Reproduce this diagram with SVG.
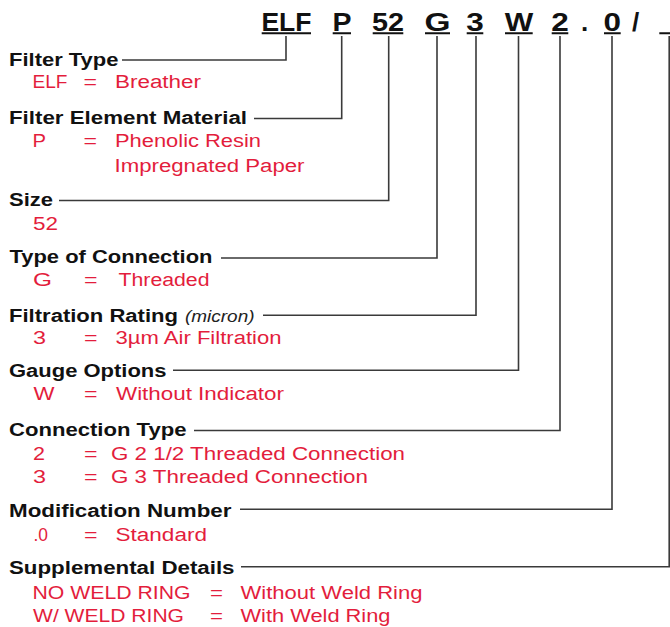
<svg xmlns="http://www.w3.org/2000/svg" width="670" height="627" viewBox="0 0 670 627">
<style>
.code{font-family:"Liberation Sans",Arial,sans-serif;font-weight:bold;font-size:26px;fill:#111;text-anchor:middle}
.ul{stroke:#111;stroke-width:2;fill:none}
.lbl{font-family:"Liberation Sans",Arial,sans-serif;font-weight:bold;font-size:19.2px;fill:#111}
.it{font-family:"Liberation Sans",Arial,sans-serif;font-style:italic;font-size:16.5px;fill:#222}
.val{font-family:"Liberation Sans",Arial,sans-serif;font-size:18px;fill:#e31d3c}
.con{stroke:#3a3a3a;stroke-width:1.6;fill:none}
</style>
<rect width="670" height="627" fill="#fff"/>
<g id="code">
<text class="code" x="286.4" y="31" textLength="50" lengthAdjust="spacingAndGlyphs">ELF</text>
<text class="code" x="341.9" y="31" textLength="19" lengthAdjust="spacingAndGlyphs">P</text>
<text class="code" x="388" y="31" textLength="32" lengthAdjust="spacingAndGlyphs">52</text>
<text class="code" x="437.5" y="31" textLength="26" lengthAdjust="spacingAndGlyphs">G</text>
<text class="code" x="475" y="31" textLength="17.5" lengthAdjust="spacingAndGlyphs">3</text>
<text class="code" x="518.9" y="31" textLength="28.5" lengthAdjust="spacingAndGlyphs">W</text>
<text class="code" x="560" y="31" textLength="17.5" lengthAdjust="spacingAndGlyphs">2</text>
<text class="code" x="584.5" y="31">.</text>
<text class="code" x="612.3" y="31" textLength="17.5" lengthAdjust="spacingAndGlyphs">0</text>
<text class="code" x="635.5" y="31">/</text>
<path class="ul" d="M261.7,33.3H311M332.7,33.3H351M372.7,33.3H403.3M425,33.3H450M466.7,33.3H483.3M505,33.3H532.7M551.7,33.3H568.3M604,33.3H620.7M659.3,33.3H670"/>
</g>
<g id="connectors">
<path class="con" d="M122,60H286V36"/>
<path class="con" d="M254,118.5H341.7V36"/>
<path class="con" d="M59,200.5H388.7V36"/>
<path class="con" d="M221,258H437V36"/>
<path class="con" d="M263,315.2H476V36"/>
<path class="con" d="M173,370.2H518.5V36"/>
<path class="con" d="M194,430.5H560V36"/>
<path class="con" d="M240,509.3H612V36"/>
<path class="con" d="M241,566.8H669.2V36"/>
</g>
<g id="filter-type">
<text class="lbl" x="9" y="65.7" textLength="109.5" lengthAdjust="spacingAndGlyphs">Filter Type</text>
<text class="val" x="32.5" y="88.3" textLength="35" lengthAdjust="spacingAndGlyphs">ELF</text>
<text class="val" x="83.5" y="88.3" textLength="13.5" lengthAdjust="spacingAndGlyphs">=</text>
<text class="val" x="115" y="88.3" textLength="86" lengthAdjust="spacingAndGlyphs">Breather</text>
</g>
<g id="filter-element-material">
<text class="lbl" x="9" y="124" textLength="238" lengthAdjust="spacingAndGlyphs">Filter Element Material</text>
<text class="val" x="32.5" y="147.3" textLength="13.5" lengthAdjust="spacingAndGlyphs">P</text>
<text class="val" x="83.5" y="147.3" textLength="13.5" lengthAdjust="spacingAndGlyphs">=</text>
<text class="val" x="115" y="147.3" textLength="146" lengthAdjust="spacingAndGlyphs">Phenolic Resin</text>
<text class="val" x="114.5" y="171.7" textLength="190" lengthAdjust="spacingAndGlyphs">Impregnated Paper</text>
</g>
<g id="size">
<text class="lbl" x="9" y="205.7" textLength="44" lengthAdjust="spacingAndGlyphs">Size</text>
<text class="val" x="33" y="230" textLength="25" lengthAdjust="spacingAndGlyphs">52</text>
</g>
<g id="type-of-connection">
<text class="lbl" x="9.5" y="262.7" textLength="203" lengthAdjust="spacingAndGlyphs">Type of Connection</text>
<text class="val" x="33" y="286" textLength="19" lengthAdjust="spacingAndGlyphs">G</text>
<text class="val" x="84" y="286" textLength="13.5" lengthAdjust="spacingAndGlyphs">=</text>
<text class="val" x="118.5" y="286" textLength="91" lengthAdjust="spacingAndGlyphs">Threaded</text>
</g>
<g id="filtration-rating">
<text class="lbl" x="9" y="321.7" textLength="169" lengthAdjust="spacingAndGlyphs">Filtration Rating</text>
<text class="it" x="185" y="321.7" textLength="69.5" lengthAdjust="spacingAndGlyphs">(micron)</text>
<text class="val" x="33" y="344.3" textLength="13" lengthAdjust="spacingAndGlyphs">3</text>
<text class="val" x="84" y="344.3" textLength="13.5" lengthAdjust="spacingAndGlyphs">=</text>
<text class="val" x="115.5" y="344.3" textLength="166" lengthAdjust="spacingAndGlyphs">3µm Air Filtration</text>
</g>
<g id="gauge-options">
<text class="lbl" x="9" y="376.7" textLength="157.5" lengthAdjust="spacingAndGlyphs">Gauge Options</text>
<text class="val" x="33.5" y="400" textLength="21" lengthAdjust="spacingAndGlyphs">W</text>
<text class="val" x="84" y="400" textLength="13.5" lengthAdjust="spacingAndGlyphs">=</text>
<text class="val" x="116" y="400" textLength="168" lengthAdjust="spacingAndGlyphs">Without Indicator</text>
</g>
<g id="connection-type">
<text class="lbl" x="9" y="435.7" textLength="177.5" lengthAdjust="spacingAndGlyphs">Connection Type</text>
<text class="val" x="33" y="460" textLength="12" lengthAdjust="spacingAndGlyphs">2</text>
<text class="val" x="84" y="460" textLength="13.5" lengthAdjust="spacingAndGlyphs">=</text>
<text class="val" x="111" y="460" textLength="294" lengthAdjust="spacingAndGlyphs">G 2 1/2 Threaded Connection</text>
<text class="val" x="33" y="483.3" textLength="13" lengthAdjust="spacingAndGlyphs">3</text>
<text class="val" x="84" y="483.3" textLength="13.5" lengthAdjust="spacingAndGlyphs">=</text>
<text class="val" x="111" y="483.3" textLength="257" lengthAdjust="spacingAndGlyphs">G 3 Threaded Connection</text>
</g>
<g id="modification-number">
<text class="lbl" x="9" y="517.3" textLength="222.5" lengthAdjust="spacingAndGlyphs">Modification Number</text>
<text class="val" x="33.5" y="541" textLength="14.5" lengthAdjust="spacingAndGlyphs">.0</text>
<text class="val" x="84" y="541" textLength="13.5" lengthAdjust="spacingAndGlyphs">=</text>
<text class="val" x="115.5" y="541" textLength="91.5" lengthAdjust="spacingAndGlyphs">Standard</text>
</g>
<g id="supplemental-details">
<text class="lbl" x="9" y="574.3" textLength="225.5" lengthAdjust="spacingAndGlyphs">Supplemental Details</text>
<text class="val" x="32.5" y="599.3" textLength="158" lengthAdjust="spacingAndGlyphs">NO WELD RING</text>
<text class="val" x="210" y="599.3" textLength="13" lengthAdjust="spacingAndGlyphs">=</text>
<text class="val" x="240.5" y="599.3" textLength="182" lengthAdjust="spacingAndGlyphs">Without Weld Ring</text>
<text class="val" x="33" y="621.7" textLength="151" lengthAdjust="spacingAndGlyphs">W/ WELD RING</text>
<text class="val" x="210" y="621.7" textLength="13" lengthAdjust="spacingAndGlyphs">=</text>
<text class="val" x="240.5" y="621.7" textLength="150" lengthAdjust="spacingAndGlyphs">With Weld Ring</text>
</g>
</svg>
